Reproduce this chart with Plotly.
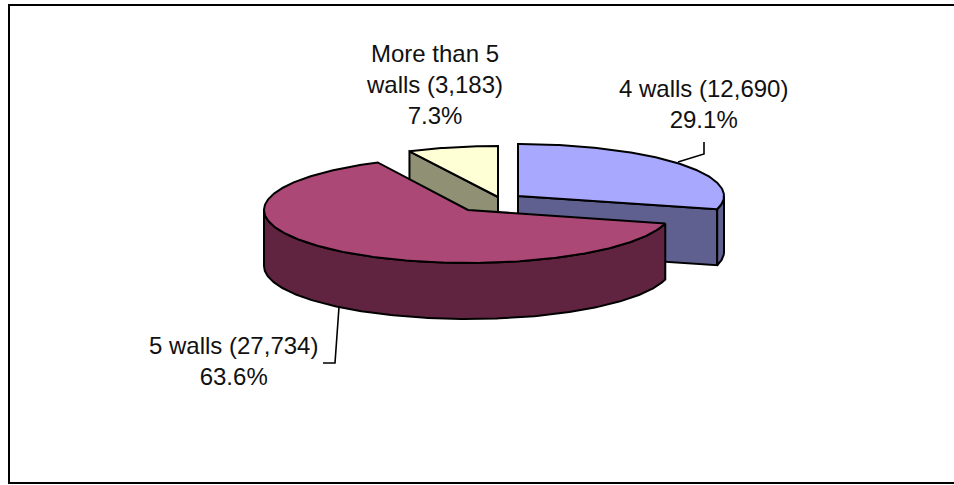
import numpy as np
import plotly.graph_objects as go

categories = ["4 walls", "5 walls", "More than 5 walls"]
values = [12690, 27734, 3183]
label_text = ["4 walls (12,690)", "5 walls (27,734)", "More than 5<br>walls (3,183)"]

top_colors = ["#A8A8FF", "#AB4876", "#FFFFD6"]
side_colors = ["#5F5F90", "#602440", "#909075"]

# Drawing geometry of the exploded, tilted pie (pixel space of the 954x485 page)
apex = [(518, 196), (468, 210), (498, 197)]
radii = [(206, 52), (204, 53), (200, 51)]
DEPTH = 56

total = sum(values)
shares = [v / total for v in values]
edges = np.concatenate([[0], np.cumsum(shares)]) * 2 * np.pi


def rim(i, a, b):
    t = np.linspace(a, b, max(2, int(abs(b - a) * 80)))
    return apex[i][0] + radii[i][0] * np.sin(t), apex[i][1] - radii[i][1] * np.cos(t)


fig = go.Figure()


def poly(x, y, color):
    fig.add_trace(go.Scatter(
        x=list(x), y=list(y), mode="lines", fill="toself", fillcolor=color,
        line=dict(color="black", width=2), hoverinfo="skip", showlegend=False))


def cut_face(i, ang):
    x, y = rim(i, ang, ang)
    poly([apex[i][0], x[0], x[0], apex[i][0], apex[i][0]],
         [apex[i][1], y[0], y[0] + DEPTH, apex[i][1] + DEPTH, apex[i][1]], side_colors[i])


def outer_wall(i, a, b):
    x, y = rim(i, a, b)
    poly(np.concatenate([x, x[::-1], x[:1]]),
         np.concatenate([y, y[::-1] + DEPTH, y[:1]]), side_colors[i])


def top_face(i, a, b):
    x, y = rim(i, a, b)
    poly(np.concatenate([[apex[i][0]], x, [apex[i][0]]]),
         np.concatenate([[apex[i][1]], y, [apex[i][1]]]), top_colors[i])


# painter's order: back slice first, large front slice last
cut_face(2, edges[2])
top_face(2, edges[2], edges[3])

cut_face(0, edges[1])
outer_wall(0, np.pi / 2, edges[1])
top_face(0, edges[0], edges[1])

outer_wall(1, edges[1], 1.5 * np.pi)
top_face(1, edges[1], edges[2])

FONT = dict(family="Liberation Sans, Arial, sans-serif", size=24, color="#111111")
label_pos = [(703, 104), (233, 361), (434, 84)]
annotations = [
    dict(x=label_pos[i][0], y=label_pos[i][1], xref="x", yref="y", showarrow=False,
         align="center", font=FONT,
         text=f"{label_text[i]}<br>{shares[i] * 100:.1f}%")
    for i in range(3)
]

leader = dict(color="black", width=1.6)
shapes = [
    dict(type="path", xref="x", yref="y", path="M 954 5 L 9 5 L 9 483 L 954 483",
         line=dict(color="black", width=2)),
    dict(type="path", xref="x", yref="y", path="M 678 162 L 704 154 L 704 142", line=leader),
    dict(type="path", xref="x", yref="y", path="M 339 307 L 335 363 L 323 363", line=leader),
]

fig.update_layout(
    width=954, height=485, margin=dict(l=0, r=0, t=0, b=0, pad=0),
    paper_bgcolor="white", plot_bgcolor="white",
    xaxis=dict(range=[0, 954], visible=False, fixedrange=True),
    yaxis=dict(range=[485, 0], visible=False, fixedrange=True),
    annotations=annotations, shapes=shapes, showlegend=False,
)

fig.write_html("out.html", config={"displayModeBar": False},
               post_script="document.body.style.margin='0';document.documentElement.style.overflow='hidden';")
